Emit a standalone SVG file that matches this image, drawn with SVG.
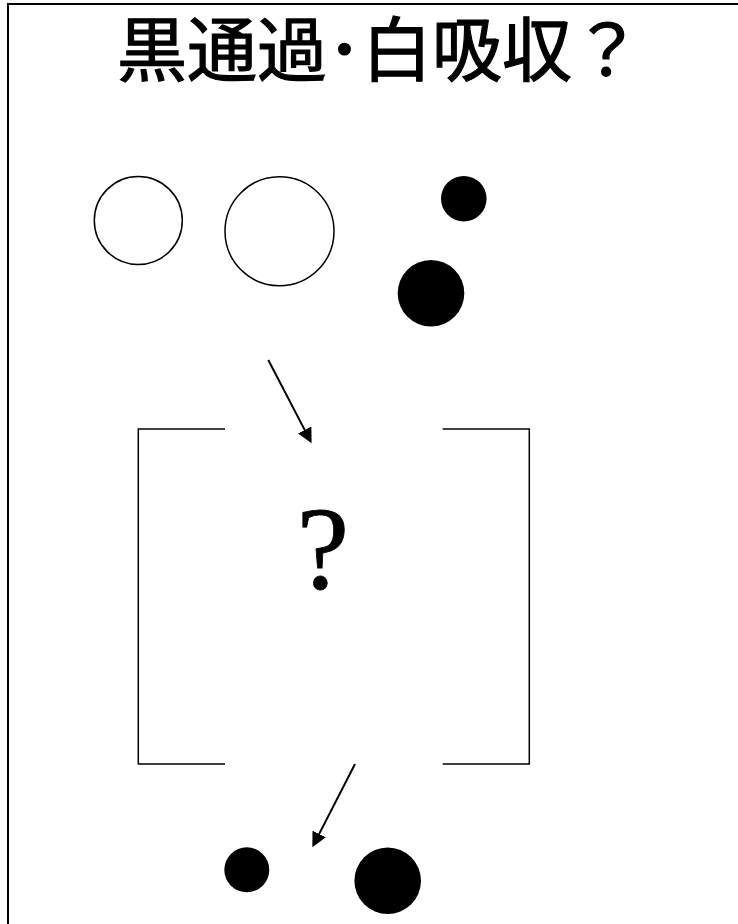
<svg xmlns="http://www.w3.org/2000/svg" width="738" height="924" viewBox="0 0 738 924">
<style>
.frame{fill:none;stroke:#000;stroke-width:2}
.open{fill:#fff;stroke:#000;stroke-width:1.5}
.dot{fill:#000}
.br{fill:none;stroke:#000;stroke-width:1.5}
.arr{stroke:#000;stroke-width:2;fill:none}
.title{font-family:"Noto Sans CJK JP","Noto Sans CJK SC",sans-serif;font-size:70px;fill:#000;stroke:#000;stroke-width:1.2}
.q{font-family:"Liberation Serif",serif;font-size:118px;fill:#000;stroke:#000;stroke-width:0.8}
</style>
<defs>
<marker id="ah" viewBox="0 0 15 15" refX="5" refY="7.5" markerWidth="15" markerHeight="15" markerUnits="userSpaceOnUse" orient="auto">
<path d="M0,0 L15,7.5 L0,15 z" fill="#000"/>
</marker>
</defs>
<rect width="738" height="924" fill="#fff"/>
<path class="frame" d="M8,924 V4 H738"/>
<g id="title"><text class="title" x="117" y="76">黒通過･白吸収？</text></g>
<g id="white-small"><circle class="open" cx="138.3" cy="220.5" r="44"/></g>
<g id="white-large"><circle class="open" cx="279.5" cy="231.3" r="54.5"/></g>
<g id="black-small-top"><circle class="dot" cx="463.8" cy="198.7" r="22.8"/></g>
<g id="black-large-top"><circle class="dot" cx="431" cy="293.3" r="33.3"/></g>
<g id="box">
<path class="br" d="M225,429 H138.3 V764 H225"/>
<path class="br" d="M442.7,429 H529.3 V764 H442.7"/>
<text class="q" x="323" y="588" text-anchor="middle">?</text>
</g>
<g id="black-small-bottom"><circle class="dot" cx="246.8" cy="869.8" r="22.5"/></g>
<g id="black-large-bottom"><circle class="dot" cx="387.7" cy="880.7" r="33.3"/></g>
<g id="connectors">
<line class="arr" x1="268.3" y1="360" x2="307" y2="434.4" marker-end="url(#ah)"/>
<line class="arr" x1="355" y1="764" x2="316.9" y2="838.4" marker-end="url(#ah)"/>
</g>
</svg>
